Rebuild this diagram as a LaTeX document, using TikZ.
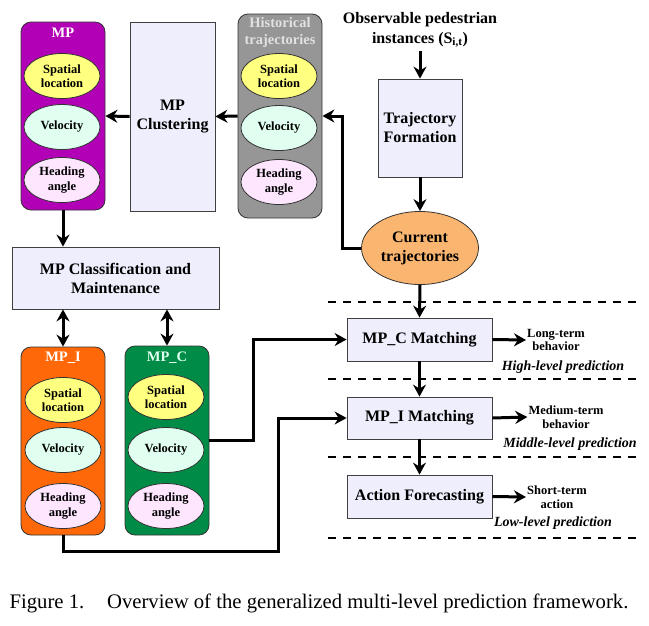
\documentclass[tikz,border=0pt]{standalone}
\usepackage{fontspec}
\setmainfont{Liberation Serif}
\usetikzlibrary{shapes.geometric,arrows.meta}

\definecolor{mpPurple}{RGB}{178,0,182}
\definecolor{histGray}{RGB}{150,150,150}
\definecolor{mpiOrange}{RGB}{255,104,8}
\definecolor{mpcGreen}{RGB}{0,140,70}
\definecolor{boxFill}{RGB}{238,238,252}
\definecolor{spatFill}{RGB}{255,255,128}
\definecolor{velFill}{RGB}{224,255,240}
\definecolor{headFill}{RGB}{255,230,255}
\definecolor{curFill}{RGB}{250,182,112}
\definecolor{titleGray}{RGB}{225,225,225}

\begin{document}
\begin{tikzpicture}[x=1pt,y=-1pt,
  procbox/.style={rectangle,draw=black!75,line width=0.8pt,fill=boxFill,align=center,
    font=\fontsize{16}{19}\selectfont\bfseries,inner sep=0pt},
  holder/.style={rectangle,rounded corners=10pt,draw=black!80,line width=0.8pt,
    minimum width=84pt,inner sep=0pt},
  attr/.style={ellipse,draw=black!80,line width=0.8pt,minimum width=76pt,minimum height=45pt,
    inner sep=0pt,align=center,font=\fontsize{12.5}{14.5}\selectfont\bfseries},
  holdtitle/.style={align=center,font=\fontsize{14.5}{17}\selectfont\bfseries},
  outlabel/.style={align=center,inner sep=1pt,font=\fontsize{12.5}{13.5}\selectfont\bfseries},
  levellabel/.style={font=\fontsize{14}{16}\selectfont\bfseries\itshape},
  arr/.style={line width=3pt,-{Stealth[length=12pt,width=13pt,inset=4pt]}},
  dblarr/.style={line width=3pt,{Stealth[length=12pt,width=13pt,inset=4pt]}-{Stealth[length=12pt,width=13pt,inset=4pt]}},
  levelline/.style={line width=1.4pt,dash pattern=on 8pt off 7pt}]
\useasboundingbox (0,0) rectangle (649,625);

% motion pattern store
\node[holder,fill=mpPurple,minimum height=188pt] (mp) at (63,116) {};
\node[holdtitle,text=white] (mpT) at (63,33) {MP};
\node[attr,fill=spatFill] (mpSpat) at (62,76) {Spatial\\location};
\node[attr,fill=velFill] (mpVel) at (62,127) {Velocity};
\node[attr,fill=headFill] (mpHead) at (62,180) {Heading\\angle};

\node[procbox,minimum width=85pt,minimum height=189pt] (clust) at (172.5,116.5) {MP\\Clustering};

% historical trajectories
\node[holder,fill=histGray,minimum height=204pt] (hist) at (280,116) {};
\node[holdtitle,text=titleGray] (histT) at (280,33) {Historical\\trajectories};
\node[attr,fill=spatFill] (histSpat) at (279,76) {Spatial\\location};
\node[attr,fill=velFill] (histVel) at (279,128) {Velocity};
\node[attr,fill=headFill] (histHead) at (279,182) {Heading\\angle};

% input side
\node[align=center,font=\fontsize{16}{19.5}\selectfont\bfseries] (obs) at (420,30)
  {Observable pedestrian\\instances (S\textsubscript{i,t})};
\node[procbox,minimum width=84pt,minimum height=98pt] (traj) at (420,128) {Trajectory\\Formation};
\node[ellipse,draw=black!80,line width=0.8pt,fill=curFill,minimum width=117pt,minimum height=73pt,
  inner sep=0pt,align=center,font=\fontsize{16}{19}\selectfont\bfseries] (cur) at (420,248)
  {Current\\trajectories};

% matching stages
\node[procbox,minimum width=145pt,minimum height=43pt] (mpcm) at (419.5,339.5) {MP\_C Matching};
\node[procbox,minimum width=145pt,minimum height=42pt] (mpim) at (419.5,418) {MP\_I Matching};
\node[procbox,minimum width=145pt,minimum height=43pt] (act) at (419.5,496.5) {Action Forecasting};

\node[outlabel] (longT) at (556,340) {Long-term\\behavior};
\node[levellabel] (highL) at (563,367) {High-level prediction};
\node[outlabel] (medT) at (566,417) {Medium-term\\behavior};
\node[levellabel] (midL) at (570,444) {Middle-level prediction};
\node[outlabel] (shortT) at (557,497) {Short-term\\action};
\node[levellabel] (lowL) at (553,523) {Low-level prediction};

\draw[levelline] (328,302) -- (636,302);
\draw[levelline] (328,379) -- (636,379);
\draw[levelline] (328,457) -- (636,457);
\draw[levelline] (328,538) -- (636,538);

% classification and the two pattern sets
\node[procbox,minimum width=207pt,minimum height=62pt] (class) at (115.5,278) {MP Classification and\\Maintenance};

\node[holder,fill=mpiOrange,minimum height=188pt] (mpi) at (63,441) {};
\node[holdtitle,text=white] (mpiT) at (63,358) {MP\_I};
\node[attr,fill=spatFill] (mpiSpat) at (63,400) {Spatial\\location};
\node[attr,fill=velFill] (mpiVel) at (63,450) {Velocity};
\node[attr,fill=headFill] (mpiHead) at (63,506) {Heading\\angle};

\node[holder,fill=mpcGreen,minimum height=189pt] (mpc) at (167,440.5) {};
\node[holdtitle,text=velFill] (mpcT) at (167,358) {MP\_C};
\node[attr,fill=spatFill] (mpcSpat) at (166,397) {Spatial\\location};
\node[attr,fill=velFill] (mpcVel) at (166,450) {Velocity};
\node[attr,fill=headFill] (mpcHead) at (166,506) {Heading\\angle};

% connectors
\draw[arr] (obs.south) -- (traj.north);
\draw[arr] (traj.south) -- (cur.north);
\draw[arr] (cur.west) -- (342,248) |- (hist.east);
\draw[arr] (hist.west) -- (clust.east);
\draw[arr] (clust.west) -- (mp.east);
\draw[arr] (mp.south) -- (class.north -| mp.south);
\draw[dblarr] (class.south -| mpi.north) -- (mpi.north);
\draw[dblarr] (class.south -| mpc.north) -- (mpc.north);
\draw[arr] (cur.south) -- (mpcm.north);
\draw[arr] (mpcm.south) -- (mpim.north);
\draw[arr] (mpim.south) -- (act.north);
\draw[arr] (mpc.east) -- (253,440.5) |- (mpcm.west);
\draw[arr] (mpi.south) -- (63,551) -- (278,551) |- (mpim.west);
\draw[arr] (mpcm.east) -- (longT.west);
\draw[arr] (mpim.east) -- (medT.west);
\draw[arr] (act.east) -- (shortT.west);

\node[font=\fontsize{20.7}{24}\selectfont] (cap) at (319,603)
  {Figure 1.\hspace{1.1em}Overview of the generalized multi-level prediction framework.};
\end{tikzpicture}
\end{document}
